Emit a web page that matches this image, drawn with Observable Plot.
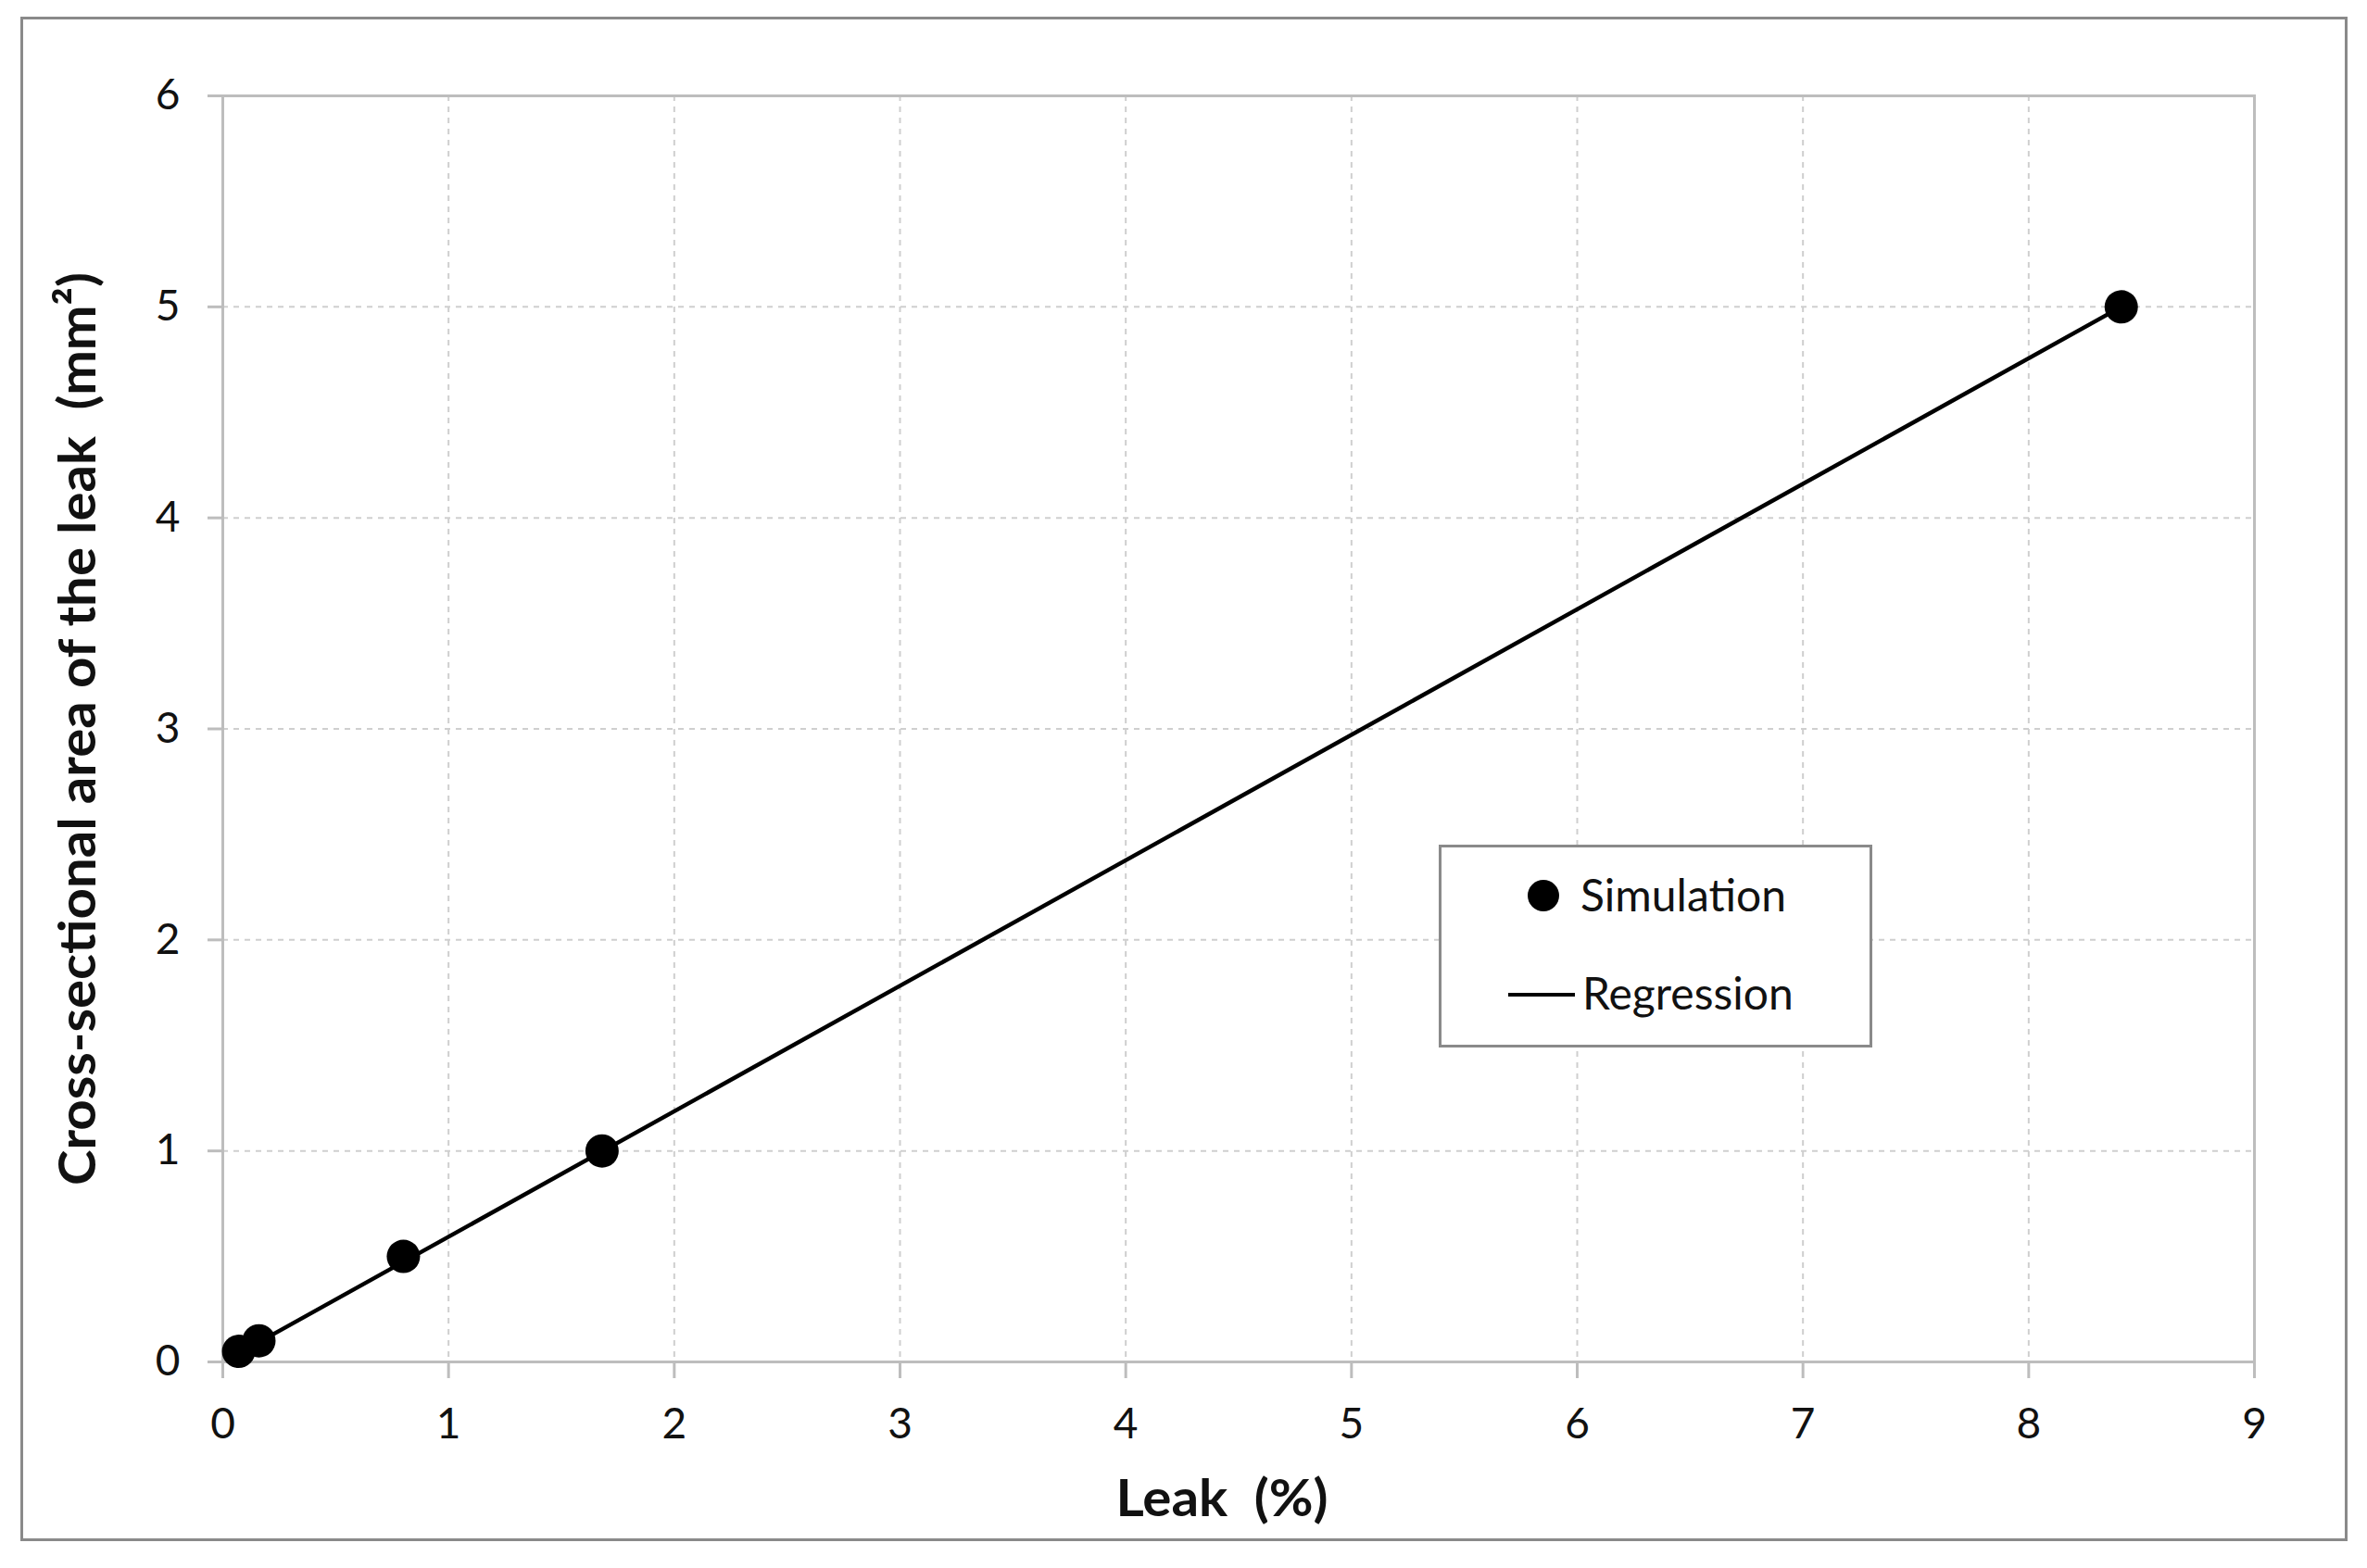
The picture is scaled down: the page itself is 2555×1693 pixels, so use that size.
<!DOCTYPE html>
<html>
<head>
<meta charset="utf-8">
<script src="https://cdn.jsdelivr.net/npm/d3@7"></script>
<script src="https://cdn.jsdelivr.net/npm/@observablehq/plot@0.6"></script>
<style>
  html, body { margin: 0; padding: 0; background: #fff; }
  #wrap { position: relative; width: 2555px; height: 1693px; }
  #outer { position: absolute; left: 22px; top: 18px; width: 2506px; height: 1640px; border: 3px solid #8a8a8a; box-sizing: content-box; }
  #legend { position: absolute; left: 1553px; top: 912px; width: 462px; height: 213px; border: 3px solid #8a8a8a; background: #fff; font-family: Lato, "Open Sans", sans-serif; font-size: 48px; color: #111; }
  #legend .row { position: absolute; left: 0; display: flex; align-items: center; }
  #plot { position: absolute; left: 0; top: 0; }
</style>
</head>
<body>
<div id="wrap">
  <div id="outer"></div>
  <div id="plot"></div>
  <div id="legend">
    <div class="row" style="top: 18px; left: 92px;">
      <svg width="46" height="64"><circle cx="18" cy="34" r="17" fill="#000"/></svg>
      <span style="margin-left: 12px;">Simulation</span>
    </div>
    <div class="row" style="top: 124px; left: 72px;">
      <svg width="76" height="64"><line x1="0" y1="35" x2="72" y2="35" stroke="#000" stroke-width="4"/></svg>
      <span style="margin-left: 4px;">Regression</span>
    </div>
  </div>
</div>
<script>
// Simulation points (Leak %, Cross-sectional area mm²)
const leakPct = [0.07, 0.16, 0.80, 1.68, 8.41];
const areaMm2 = [0.05, 0.10, 0.50, 1.00, 5.00];
// Regression line endpoints
const regLeak = [0.07, 8.41];
const regArea = [0.04, 5.00];
// Axis ticks
const xTicks = [0, 1, 2, 3, 4, 5, 6, 7, 8, 9];
const yTicks = [0, 1, 2, 3, 4, 5, 6];
const xTitle = "Leak  (%)";
const yTitle = "Cross-sectional area of the leak  (mm²)";

const sim = leakPct.map((x, i) => ({x, y: areaMm2[i]}));
const reg = regLeak.map((x, i) => ({x, y: regArea[i]}));

const font = "Lato, 'Open Sans', sans-serif";
const fmt = d3.format("d");

const chart = Plot.plot({
  width: 2555,
  height: 1693,
  marginLeft: 240,
  marginRight: 122,
  marginTop: 103,
  marginBottom: 223,
  style: {fontFamily: font, fontSize: "46px", color: "#111", background: "transparent"},
  x: {domain: [0, 9], ticks: xTicks},
  y: {domain: [0, 6], ticks: yTicks},
  marks: [
    Plot.gridX(xTicks.slice(1, -1), {stroke: "#cfcfcf", strokeOpacity: 1, strokeWidth: 2, strokeDasharray: "6,6"}),
    Plot.gridY(yTicks.slice(1, -1), {stroke: "#cfcfcf", strokeOpacity: 1, strokeWidth: 2, strokeDasharray: "6,6"}),
    Plot.frame({stroke: "#bdbdbd", strokeWidth: 3}),
    Plot.axisX(xTicks, {tickSize: 18, tickPadding: 32, tickFormat: fmt, stroke: "#bdbdbd", strokeWidth: 3, fontSize: 46, label: null}),
    Plot.axisY(yTicks, {tickSize: 16, tickPadding: 30, tickFormat: fmt, stroke: "#bdbdbd", strokeWidth: 3, fontSize: 46, label: null}),
    Plot.line(reg, {x: "x", y: "y", stroke: "#000", strokeWidth: 4.5}),
    Plot.dot(sim, {x: "x", y: "y", r: 18, fill: "#000", stroke: "none"}),
    Plot.text([xTitle], {frameAnchor: "bottom", dx: -18, dy: 166, textAnchor: "middle", fontSize: 56, fontWeight: "bold", fill: "#111"}),
    Plot.text([yTitle], {frameAnchor: "left", dx: -155, rotate: -90, textAnchor: "middle", fontSize: 56, fontWeight: "bold", fill: "#111"})
  ]
});
document.getElementById("plot").appendChild(chart);

// Squeeze the titles along their own direction to the lengths seen in the
// reference (its Calibri is narrower than the fonts available here).
function fitTitles() {
  chart.querySelectorAll("text").forEach(t => {
    const s = t.textContent;
    let target = 0;
    if (s.includes("Cross-sectional")) target = 986;
    else if (s.startsWith("Leak")) target = 229;
    if (!target) return;
    if (t.dataset.baseTransform === undefined) t.dataset.baseTransform = t.getAttribute("transform") || "";
    const natural = t.getComputedTextLength();
    if (natural > 0) t.setAttribute("transform", t.dataset.baseTransform + ` scale(${target / natural},1)`);
  });
}
fitTitles();
if (document.fonts && document.fonts.ready) document.fonts.ready.then(fitTitles);
</script>
</body>
</html>
